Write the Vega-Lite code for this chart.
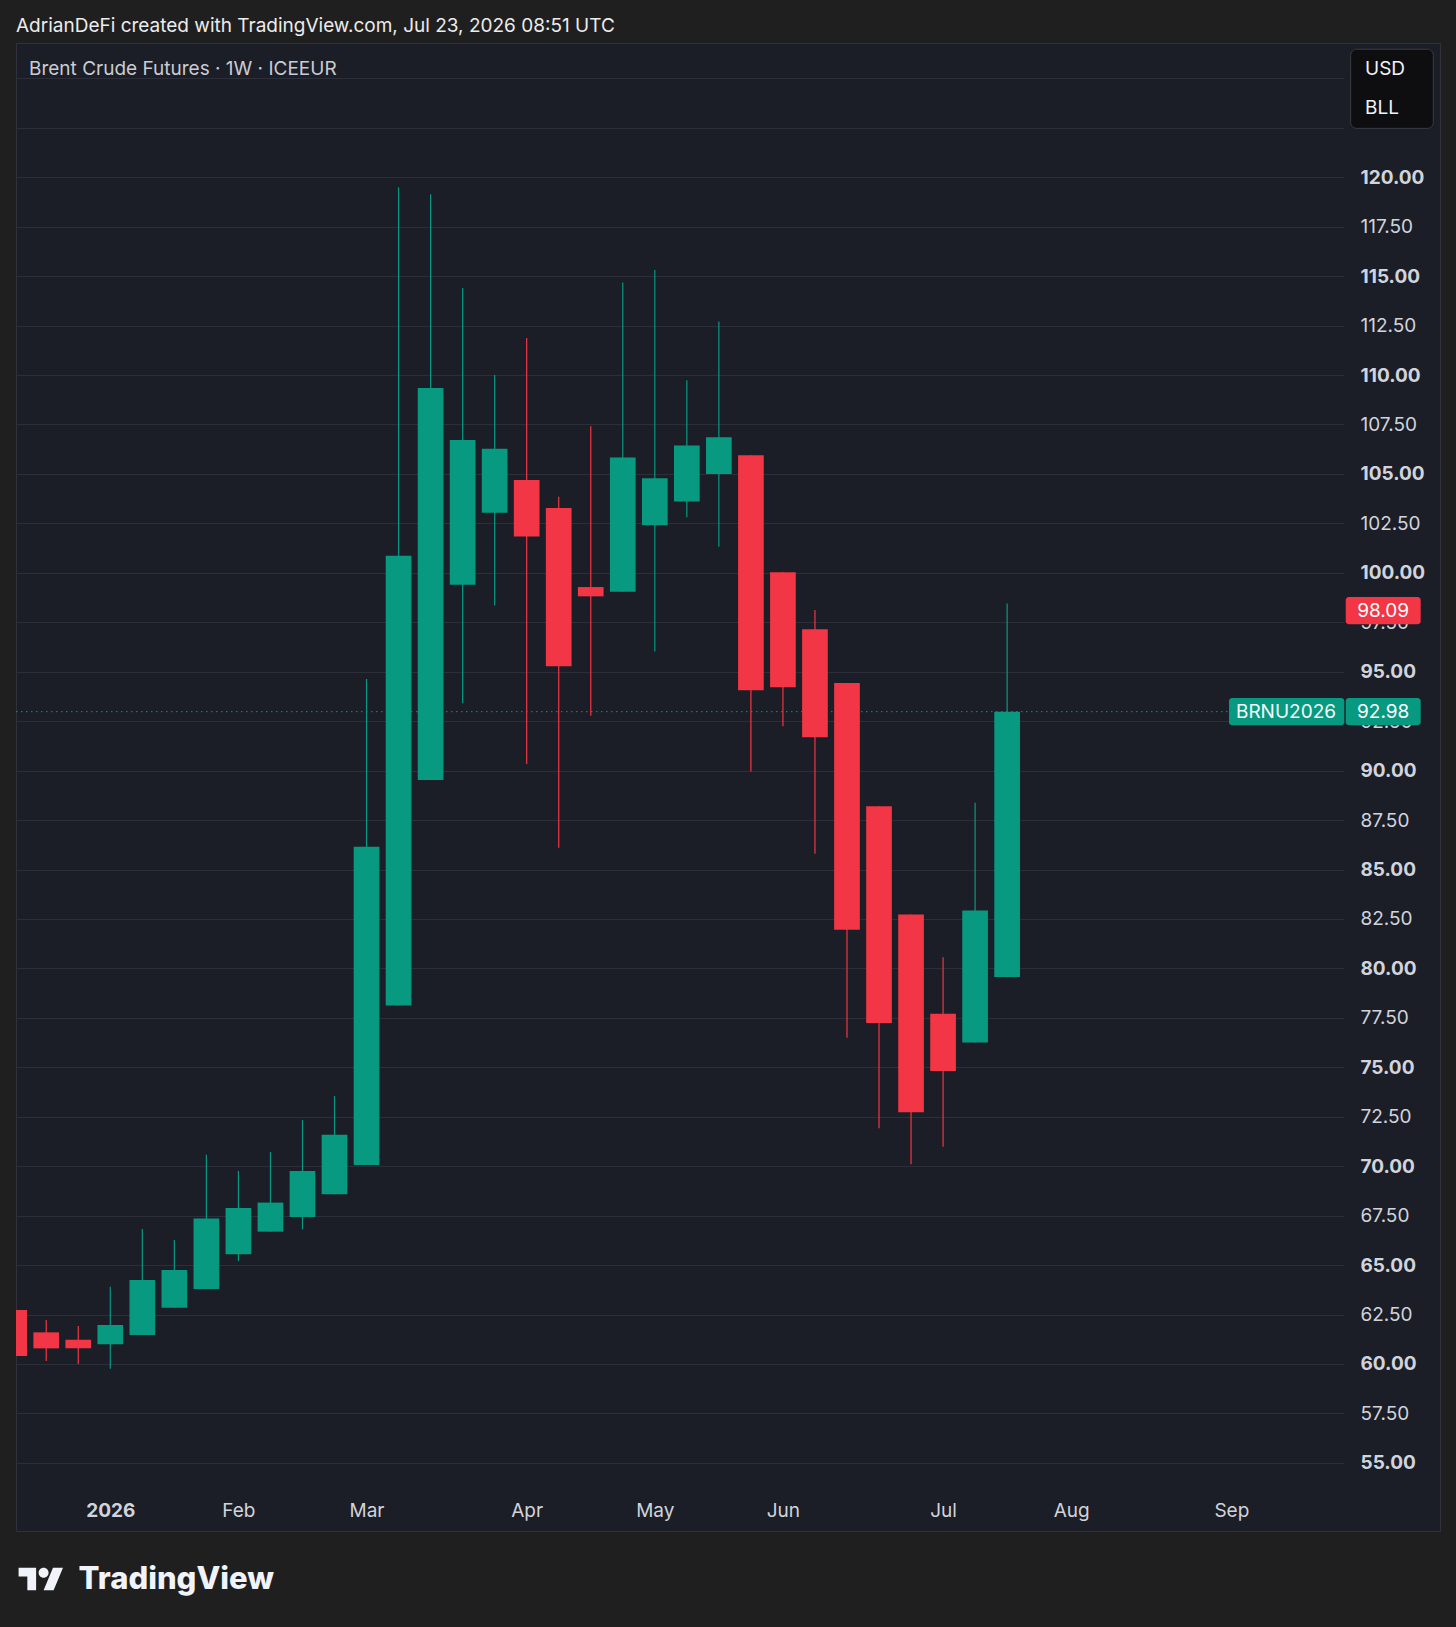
{
  "$schema": "https://vega.github.io/schema/vega-lite/v6.json",
  "description": "Brent Crude Futures weekly candles, TradingView style.",
  "width": 1424,
  "height": 1488,
  "autosize": {"type": "none"},
  "padding": {"left": 16, "top": 43, "right": 16, "bottom": 96},
  "background": "#1f1f1f",
  "title": {
    "text": "AdrianDeFi created with TradingView.com, Jul 23, 2026 08:51 UTC",
    "anchor": "start",
    "frame": "group",
    "font": "Inter",
    "fontSize": 19,
    "fontWeight": "normal",
    "color": "#ececec",
    "offset": 7
  },
  "config": {
    "font": "Inter",
    "view": {"fill": "#1b1e26", "stroke": "#2f323c", "strokeWidth": 1}
  },
  "datasets": {
    "candles": [
      {"date": "2025-12-15", "open": 62.73, "high": 62.9, "low": 60.25, "close": 60.4},
      {"date": "2025-12-22", "open": 61.6, "high": 62.22, "low": 60.15, "close": 60.79},
      {"date": "2025-12-29", "open": 61.23, "high": 61.92, "low": 60.0, "close": 60.79},
      {"date": "2026-01-05", "open": 61.0, "high": 63.91, "low": 59.76, "close": 61.97},
      {"date": "2026-01-12", "open": 61.47, "high": 66.83, "low": 61.47, "close": 64.25},
      {"date": "2026-01-19", "open": 62.85, "high": 66.27, "low": 62.85, "close": 64.75},
      {"date": "2026-01-26", "open": 63.79, "high": 70.58, "low": 63.79, "close": 67.35},
      {"date": "2026-02-02", "open": 65.55, "high": 69.76, "low": 65.21, "close": 67.89},
      {"date": "2026-02-09", "open": 66.69, "high": 70.72, "low": 66.69, "close": 68.16},
      {"date": "2026-02-16", "open": 67.43, "high": 72.34, "low": 66.81, "close": 69.76},
      {"date": "2026-02-23", "open": 68.58, "high": 73.55, "low": 68.58, "close": 71.59},
      {"date": "2026-03-02", "open": 70.06, "high": 94.63, "low": 70.06, "close": 86.15},
      {"date": "2026-03-09", "open": 78.12, "high": 119.49, "low": 78.12, "close": 100.86},
      {"date": "2026-03-16", "open": 89.52, "high": 119.14, "low": 89.52, "close": 109.34},
      {"date": "2026-03-23", "open": 99.39, "high": 114.4, "low": 93.4, "close": 106.71},
      {"date": "2026-03-30", "open": 103.04, "high": 110.0, "low": 98.35, "close": 106.27},
      {"date": "2026-04-06", "open": 104.69, "high": 111.87, "low": 90.33, "close": 101.83},
      {"date": "2026-04-13", "open": 103.27, "high": 103.85, "low": 86.1, "close": 95.28},
      {"date": "2026-04-20", "open": 99.28, "high": 107.41, "low": 92.77, "close": 98.81},
      {"date": "2026-04-27", "open": 99.04, "high": 114.68, "low": 99.04, "close": 105.83},
      {"date": "2026-05-04", "open": 102.41, "high": 115.31, "low": 96.02, "close": 104.78},
      {"date": "2026-05-11", "open": 103.6, "high": 109.73, "low": 102.81, "close": 106.43},
      {"date": "2026-05-18", "open": 104.99, "high": 112.7, "low": 101.32, "close": 106.85},
      {"date": "2026-05-25", "open": 105.94, "high": 105.94, "low": 89.96, "close": 94.06},
      {"date": "2026-06-01", "open": 100.03, "high": 100.03, "low": 92.24, "close": 94.21},
      {"date": "2026-06-08", "open": 97.14, "high": 98.12, "low": 85.8, "close": 91.68},
      {"date": "2026-06-15", "open": 94.43, "high": 94.43, "low": 76.5, "close": 81.95},
      {"date": "2026-06-22", "open": 88.2, "high": 88.2, "low": 71.92, "close": 77.24},
      {"date": "2026-06-29", "open": 82.73, "high": 82.73, "low": 70.1, "close": 72.73},
      {"date": "2026-07-06", "open": 77.71, "high": 80.57, "low": 70.98, "close": 74.81},
      {"date": "2026-07-13", "open": 76.26, "high": 88.38, "low": 76.26, "close": 82.93},
      {"date": "2026-07-20", "open": 79.56, "high": 98.45, "low": 79.56, "close": 92.98}
    ],
    "tags": [
      {"price": 98.09, "label": "98.09", "kind": "high", "where": "axis"},
      {"price": 92.98, "label": "92.98", "kind": "last", "where": "axis"},
      {"price": 92.98, "label": "BRNU2026", "kind": "last", "where": "line"}
    ]
  },
  "layer": [
    {
      "data": {"name": "tags"},
      "transform": [{"filter": "datum.where === 'axis' && datum.kind === 'last'"}],
      "mark": {"type": "rule", "color": "#089981", "strokeDash": [1.5, 3.5], "strokeWidth": 1},
      "encoding": {
        "x": {"datum": {"year": 2025, "month": 12, "date": 15, "hours": 9, "minutes": 23, "utc": true}, "type": "temporal"},
        "x2": {"datum": {"year": 2026, "month": 9, "date": 6, "hours": 11, "minutes": 45, "utc": true}},
        "y": {"field": "price", "type": "quantitative"}
      }
    },
    {
      "data": {"name": "candles"},
      "mark": {"type": "rule", "strokeWidth": 1.2, "clip": true},
      "encoding": {
        "x": {
          "field": "date",
          "type": "temporal",
          "scale": {
            "type": "utc",
            "domain": [
              {"year": 2025, "month": 12, "date": 15, "hours": 9, "minutes": 23, "utc": true},
              {"year": 2026, "month": 10, "date": 1, "hours": 14, "minutes": 53, "utc": true}
            ],
            "range": [0, 1328],
            "padding": 0
          },
          "axis": {
            "values": [
              {"year": 2026, "month": 1, "date": 5, "utc": true},
              {"year": 2026, "month": 2, "date": 2, "utc": true},
              {"year": 2026, "month": 3, "date": 2, "utc": true},
              {"year": 2026, "month": 4, "date": 6, "utc": true},
              {"year": 2026, "month": 5, "date": 4, "utc": true},
              {"year": 2026, "month": 6, "date": 1, "utc": true},
              {"year": 2026, "month": 7, "date": 6, "utc": true},
              {"year": 2026, "month": 8, "date": 3, "utc": true},
              {"year": 2026, "month": 9, "date": 7, "utc": true}
            ],
            "labelExpr": "utcmonth(datum.value) === 0 ? utcFormat(datum.value, '%Y') : utcFormat(datum.value, '%b')",
            "offset": -21,
            "labelPadding": 0,
            "ticks": false,
            "domain": false,
            "grid": false,
            "labelBaseline": "middle",
            "labelFont": "Inter",
            "labelFontSize": 19,
            "labelColor": "#d1d4dc",
            "labelFontWeight": {"condition": {"test": "utcmonth(datum.value) === 0", "value": "bold"}, "value": "normal"},
            "labelFlush": false,
            "labelOverlap": false,
            "title": "TradingView",
            "titleFont": "Inter",
            "titleFontSize": 31,
            "titleFontWeight": 800,
            "titleColor": "#f0f3fa",
            "titleX": 62,
            "titleY": 69,
            "titleAlign": "left",
            "titleBaseline": "middle"
          }
        },
        "y": {
          "field": "low",
          "type": "quantitative",
          "scale": {"domain": [51.557, 126.785], "nice": false, "zero": false},
          "axis": {
            "orient": "left",
            "values": [55, 57.5, 60, 62.5, 65, 67.5, 70, 72.5, 75, 77.5, 80, 82.5, 85, 87.5, 90, 92.5, 95, 97.5, 100, 102.5, 105, 107.5, 110, 112.5, 115, 117.5, 120, 122.5, 125],
            "labelExpr": "datum.value > 120 ? '' : format(datum.value, '.2f')",
            "offset": -1344,
            "labelPadding": 0,
            "ticks": false,
            "domain": false,
            "grid": true,
            "gridColor": "#2c2f3a",
            "gridWidth": 1,
            "labelAlign": "left",
            "labelBaseline": "middle",
            "labelFont": "Inter",
            "labelFontSize": 19,
            "labelColor": "#d1d4dc",
            "labelFontWeight": {"condition": {"test": "datum.value % 5 === 0", "value": "bold"}, "value": "normal"},
            "labelFlush": false,
            "labelOverlap": false,
            "title": null
          }
        },
        "y2": {"field": "high"},
        "color": {"condition": {"test": "datum.close >= datum.open", "value": "#089981"}, "value": "#f23645"}
      }
    },
    {
      "data": {"name": "candles"},
      "mark": {"type": "bar", "size": 25.7, "clip": true},
      "encoding": {
        "x": {"field": "date", "type": "temporal"},
        "y": {"field": "open", "type": "quantitative"},
        "y2": {"field": "close"},
        "color": {"condition": {"test": "datum.close >= datum.open", "value": "#089981"}, "value": "#f23645"}
      }
    },
    {
      "data": {"name": "tags"},
      "transform": [{"filter": "datum.where === 'axis'"}],
      "mark": {"type": "rect", "cornerRadius": 3, "yOffset": -13.6, "y2Offset": 13.6},
      "encoding": {
        "x": {"datum": {"year": 2026, "month": 10, "date": 2, "utc": true}, "type": "temporal"},
        "x2": {"datum": {"year": 2026, "month": 10, "date": 18, "hours": 9, "minutes": 7, "utc": true}},
        "y": {"field": "price", "type": "quantitative"},
        "y2": {"field": "price"},
        "color": {"condition": {"test": "datum.kind === 'high'", "value": "#f23645"}, "value": "#089981"}
      }
    },
    {
      "data": {"name": "tags"},
      "transform": [{"filter": "datum.where === 'axis'"}],
      "mark": {"type": "text", "fontSize": 19, "color": "#ffffff", "align": "center", "baseline": "middle"},
      "encoding": {
        "x": {"datum": {"year": 2026, "month": 10, "date": 10, "hours": 4, "minutes": 30, "utc": true}, "type": "temporal"},
        "y": {"field": "price", "type": "quantitative"},
        "text": {"field": "label"}
      }
    },
    {
      "data": {"name": "tags"},
      "transform": [{"filter": "datum.where === 'line'"}],
      "mark": {"type": "rect", "cornerRadius": 3, "yOffset": -13.6, "y2Offset": 13.6, "color": "#089981"},
      "encoding": {
        "x": {"datum": {"year": 2026, "month": 9, "date": 6, "hours": 11, "minutes": 45, "utc": true}, "type": "temporal"},
        "x2": {"datum": {"year": 2026, "month": 10, "date": 1, "hours": 16, "minutes": 35, "utc": true}},
        "y": {"field": "price", "type": "quantitative"},
        "y2": {"field": "price"}
      }
    },
    {
      "data": {"name": "tags"},
      "transform": [{"filter": "datum.where === 'line'"}],
      "mark": {"type": "text", "fontSize": 19, "color": "#f4fbf9", "align": "center", "baseline": "middle"},
      "encoding": {
        "x": {"datum": {"year": 2026, "month": 9, "date": 18, "hours": 22, "minutes": 33, "utc": true}, "type": "temporal"},
        "y": {"field": "price", "type": "quantitative"},
        "text": {"field": "label"}
      }
    },
    {
      "data": {"values": [{}]},
      "mark": {"type": "rect", "cornerRadius": 6, "fill": "#0e0e10", "stroke": "#3a3d47", "strokeWidth": 1},
      "encoding": {
        "x": {"datum": {"year": 2026, "month": 10, "date": 3, "hours": 1, "minutes": 55, "utc": true}, "type": "temporal"},
        "x2": {"datum": {"year": 2026, "month": 10, "date": 21, "hours": 3, "minutes": 22, "utc": true}},
        "y": {"datum": 126.47, "type": "quantitative"},
        "y2": {"datum": 122.47}
      }
    },
    {
      "data": {"values": [{}]},
      "mark": {"type": "text", "text": "USD", "fontSize": 19, "color": "#f0f3fa", "align": "left", "baseline": "middle"},
      "encoding": {
        "x": {"datum": {"year": 2026, "month": 10, "date": 6, "hours": 5, "minutes": 2, "utc": true}, "type": "temporal"},
        "y": {"datum": 125.47, "type": "quantitative"}
      }
    },
    {
      "data": {"values": [{}]},
      "mark": {"type": "text", "text": "BLL", "fontSize": 19, "color": "#f0f3fa", "align": "left", "baseline": "middle"},
      "encoding": {
        "x": {"datum": {"year": 2026, "month": 10, "date": 6, "hours": 5, "minutes": 2, "utc": true}, "type": "temporal"},
        "y": {"datum": 123.48, "type": "quantitative"}
      }
    },
    {
      "data": {"values": [{}]},
      "mark": {"type": "text", "text": "Brent Crude Futures · 1W · ICEEUR", "fontSize": 19, "color": "#c9ccd4", "align": "left", "baseline": "middle"},
      "encoding": {
        "x": {"datum": {"year": 2025, "month": 12, "date": 18, "hours": 5, "minutes": 34, "utc": true}, "type": "temporal"},
        "y": {"datum": 125.47, "type": "quantitative"}
      }
    },
    {
      "data": {"values": [{}]},
      "mark": {
        "type": "point",
        "shape": "M-0.211,0.507H-0.606V-0.113H-1V-0.507H-0.211Z M0.577,0.507H0.127L0.549,-0.507H1Z M-0.098,-0.282A0.225,0.225 0 1 0 0.352,-0.282A0.225,0.225 0 1 0 -0.098,-0.282Z",
        "filled": true,
        "size": 1971,
        "color": "#f0f3fa",
        "opacity": 1,
        "strokeWidth": 0
      },
      "encoding": {
        "x": {"datum": {"year": 2025, "month": 12, "date": 20, "hours": 19, "minutes": 26, "utc": true}, "type": "temporal"},
        "y": {"datum": 49.13, "type": "quantitative"}
      }
    }
  ]
}
